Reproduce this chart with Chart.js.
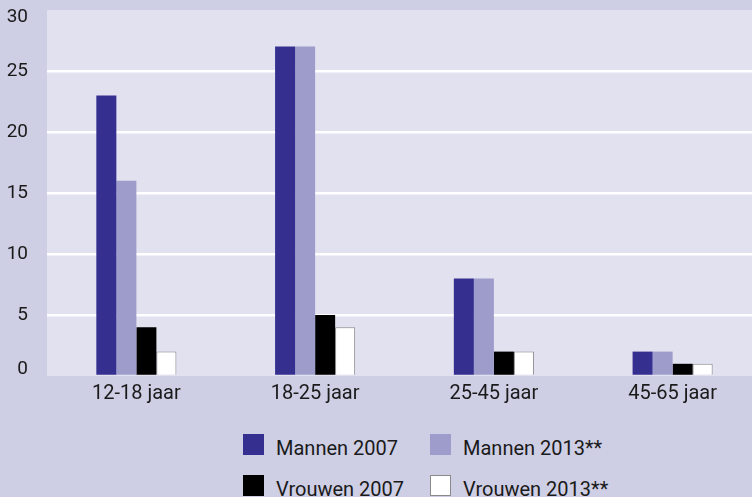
<!DOCTYPE html>
<html lang="nl">
<head>
<meta charset="UTF-8">
<title>Mannen en vrouwen per leeftijdsgroep</title>
<style>
    html, body { margin: 0; padding: 0; }
    body {
        width: 752px; height: 497px; overflow: hidden; position: relative;
        background: #cecee4; font-family: Roboto, "Noto Sans", sans-serif; color: #1a1a1a;
    }
    #chart { position: absolute; left: 0; top: 0; }
    .item { position: absolute; width: 200px; height: 24px; }
    .item .box { position: absolute; left: 0; top: 0; width: 21px; height: 21px; box-sizing: border-box; }
    .item .txt { position: absolute; left: 33px; top: 4px; font-size: 20px; line-height: 20px; white-space: nowrap; }
</style>
</head>
<body>
<canvas id="chart" width="762" height="410"></canvas>
<div id="legend"></div>

<script src="https://cdn.jsdelivr.net/npm/chart.js"></script>
<script>
    // data
    const categories = ['12-18 jaar', '18-25 jaar', '25-45 jaar', '45-65 jaar'];
    const mannen2007 = [23, 27, 8, 2];
    const mannen2013 = [16, 27, 8, 2];
    const vrouwen2007 = [4, 5, 2, 1];
    const vrouwen2013 = [2, 4, 2, 1];
    const seriesNames = ['Mannen 2007', 'Mannen 2013**', 'Vrouwen 2007', 'Vrouwen 2013**'];
    const seriesColors = ['#352f90', '#9e9ccb', '#000000', '#ffffff'];
    const seriesBorders = ['#352f90', '#9e9ccb', '#000000', '#8a8a8a'];

    const plotBackground = {
        id: 'plotBackground',
        beforeDraw(chart) {
            const a = chart.chartArea;
            const ctx = chart.ctx;
            ctx.save();
            ctx.fillStyle = '#e2e1f0';
            ctx.fillRect(a.left, a.top, a.right - a.left, a.bottom - a.top);
            ctx.restore();
        }
    };

    const values = [mannen2007, mannen2013, vrouwen2007, vrouwen2013];
    const datasets = values.map((v, i) => ({
        label: seriesNames[i],
        data: v,
        backgroundColor: seriesColors[i],
        borderColor: seriesBorders[i],
        borderWidth: i === 3 ? 1 : 0,
        barPercentage: 1,
        categoryPercentage: 0.448
    }));

    new Chart(document.getElementById('chart'), {
        type: 'bar',
        data: { labels: categories, datasets: datasets },
        plugins: [plotBackground],
        options: {
            responsive: false,
            animation: false,
            devicePixelRatio: 1,
            layout: { padding: { top: 10, left: 0, right: 0, bottom: 0 } },
            plugins: { legend: { display: false }, tooltip: { enabled: false } },
            scales: {
                x: {
                    grid: { display: false, drawTicks: false },
                    border: { display: false },
                    ticks: { color: '#1a1a1a', font: { family: 'Roboto', size: 20 }, padding: 6, maxRotation: 0 },
                    afterFit: s => { s.height = 34; s.paddingLeft = 0; s.paddingRight = 0; }
                },
                y: {
                    min: 0, max: 30,
                    border: { display: false },
                    grid: {
                        drawTicks: false,
                        lineWidth: 2.5,
                        color: c => (c.tick && (c.tick.value === 0 || c.tick.value === 30)) ? 'rgba(0,0,0,0)' : '#ffffff'
                    },
                    ticks: {
                        stepSize: 5,
                        padding: 19,
                        color: '#1a1a1a',
                        font: { family: 'Roboto', size: 19, lineHeight: '14px' },
                        // push the end labels inward like the original
                        callback: v => v === 30 ? ['', '30'] : (v === 0 ? ['0', ''] : String(v))
                    },
                    afterFit: s => { s.width = 47; s.paddingTop = 0; s.paddingBottom = 0; }
                }
            }
        }
    });

    // legend in two rows of two
    const legend = document.getElementById('legend');
    const spots = [[243, 434], [430, 434], [243, 475], [430, 475]];
    seriesNames.forEach((name, i) => {
        const item = document.createElement('div');
        item.className = 'item';
        item.style.left = spots[i][0] + 'px';
        item.style.top = spots[i][1] + 'px';
        const box = document.createElement('span');
        box.className = 'box';
        box.style.background = seriesColors[i];
        if (i === 3) box.style.border = '1px solid ' + seriesBorders[i];
        const txt = document.createElement('span');
        txt.className = 'txt';
        txt.textContent = name;
        item.appendChild(box);
        item.appendChild(txt);
        legend.appendChild(item);
    });
</script>
</body>
</html>
